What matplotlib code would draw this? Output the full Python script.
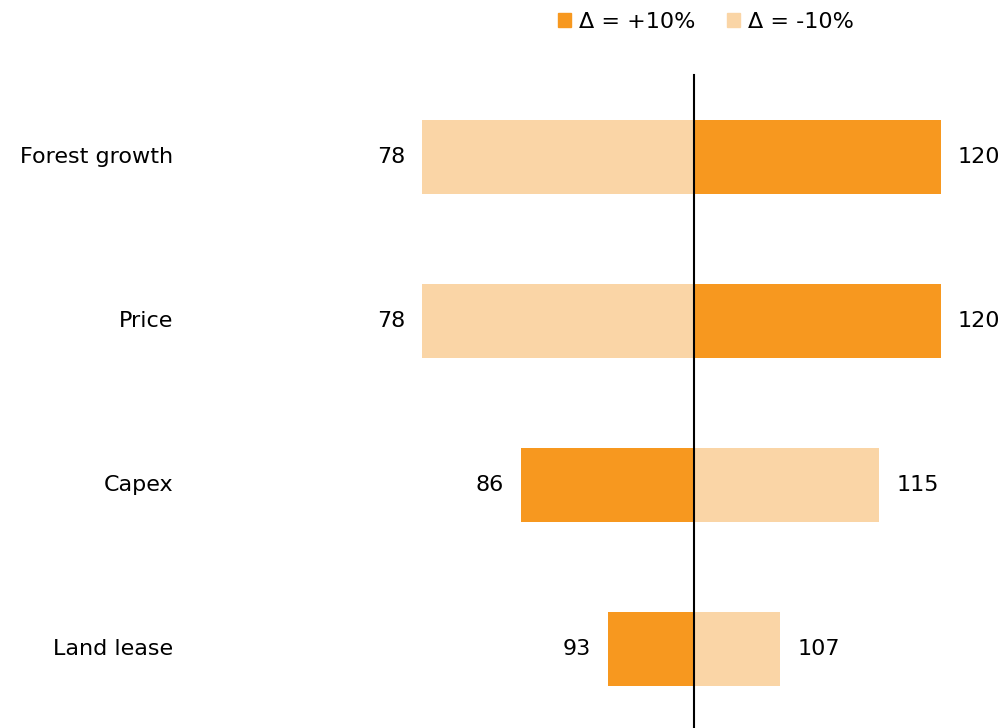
import matplotlib
matplotlib.use("Agg")
import matplotlib.pyplot as plt
from matplotlib.patches import Patch

# sensitivity of the result to +/-10% changes in each driver (base = 100)
categories = ["Forest growth", "Price", "Capex", "Land lease"]
plus_10 = [120, 120, 86, 93]
minus_10 = [78, 78, 115, 107]
base = 100

DARK = "#F7981F"
LIGHT = "#FAD5A6"
FS = 16

fig = plt.figure(figsize=(10.04, 7.28), dpi=100)
ax = fig.add_axes([0, 0, 1, 1])
ax.set_xlim(43.8, 125.1)
ax.set_ylim(3.482, -0.957)
ax.axis("off")

ypos = list(range(len(categories)))
ax.barh(ypos, [v - base for v in plus_10], left=base, height=0.45, color=DARK, zorder=2)
ax.barh(ypos, [v - base for v in minus_10], left=base, height=0.45, color=LIGHT, zorder=2)
ax.plot([base, base], [-0.5, 3.6], color="black", lw=1.5, zorder=3, clip_on=False)

for y, name, p, m in zip(ypos, categories, plus_10, minus_10):
    ax.text(57.85, y, name, ha="right", va="center", fontsize=FS)
    for v in (p, m):
        side = 1 if v > base else -1
        ax.annotate(str(v), xy=(v, y), xytext=(side * 12.2, 0), textcoords="offset points",
                    ha="left" if side > 0 else "right", va="center", fontsize=FS)

handles = [Patch(color=DARK, label="Δ = +10%"), Patch(color=LIGHT, label="Δ = -10%")]
fig.legend(handles=handles, loc="center", bbox_to_anchor=(0.703, 1 - 22 / 728), ncol=2,
           frameon=False, fontsize=FS, handlelength=0.62, handleheight=0.62,
           handletextpad=0.35, columnspacing=1.4, borderaxespad=0)

fig.savefig("out.png", dpi=100, facecolor="white")
